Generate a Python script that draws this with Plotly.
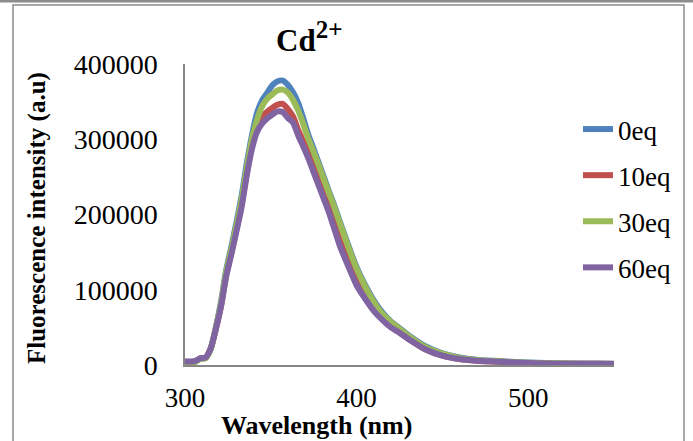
import plotly.graph_objects as go

# ---- data ----
wavelength = [300, 303, 306, 309, 312, 315, 318, 321, 324, 327, 330, 333, 336, 339, 342,
              345, 348, 351, 354, 357, 360, 363, 366, 369, 372, 375, 378, 381, 384, 387,
              390, 395, 400, 405, 410, 415, 420, 425, 430, 440, 450, 460, 470, 480, 490,
              500, 510, 520, 530, 540, 550]

eq0 = [3000, 3000, 4500, 8500, 9500, 22000, 50000, 84000, 126000, 157000, 190000, 225000, 268000, 305000, 335000,
       352000, 362000, 372000, 377000, 378000, 372000, 362000, 348000, 327000, 305000, 287000, 268000, 249000, 230000, 212000,
       192000, 160000, 130000, 106000, 86000, 70000, 58000, 49000, 40000, 25000, 15500, 10000, 7000, 5500, 4200,
       3200, 2500, 2000, 1800, 1700, 1600]

eq10 = [4000, 4000, 5000, 8500, 9500, 22000, 48000, 79000, 119000, 149000, 180000, 213000, 256000, 292000, 316000,
        330000, 337000, 342000, 346000, 347000, 340000, 330000, 312000, 297000, 281000, 263000, 245000, 226000, 208000, 188000,
        167000, 138000, 112000, 92000, 74000, 61000, 51000, 43000, 35000, 21000, 12500, 8000, 5800, 4600, 3500,
        2600, 2000, 1700, 1600, 1500, 1400]

eq30 = [3000, 2500, 4000, 8000, 9000, 21000, 50000, 82000, 124000, 154000, 186000, 220000, 262000, 300000, 326000,
        344000, 354000, 360000, 365000, 366000, 362000, 352000, 338000, 320000, 300000, 283000, 265000, 246000, 228000, 210000,
        190000, 158000, 128000, 104000, 84000, 68000, 57000, 48000, 39000, 24000, 15000, 9500, 6800, 5300, 4000,
        3000, 2400, 2000, 1800, 1700, 1600]

eq60 = [5000, 4500, 5500, 9000, 10000, 22000, 48000, 78000, 118000, 147000, 178000, 210000, 252000, 287000, 310000,
        321000, 328000, 333000, 337000, 336000, 328000, 322000, 305000, 290000, 274000, 256000, 238000, 220000, 202000, 181000,
        160000, 132000, 106000, 88000, 72000, 60000, 50000, 43000, 35000, 21000, 12500, 8000, 5800, 4700, 3600,
        2600, 2000, 1700, 1600, 1500, 1400]

series_names = ["0eq", "10eq", "30eq", "60eq"]
series_values = [eq0, eq10, eq30, eq60]
series_colors = ["#4F81BD", "#C0504D", "#9BBB59", "#8064A2"]

x_ticks = [300, 400, 500]
y_ticks = [0, 100000, 200000, 300000, 400000]

# ---- layout geometry (pixels) ----
W, H = 693, 441
L, R, T, B = 185, 614, 64, 365  # plot area edges


def px(xp):
    return (xp - L) / (R - L)


def py(yp):
    return (B - yp) / (B - T)


SERIF = "Liberation Serif, Times New Roman, serif"

fig = go.Figure()
for i, (name, vals, col) in enumerate(zip(series_names, series_values, series_colors)):
    fig.add_trace(go.Scatter(
        x=wavelength, y=vals, name=name, mode="lines",
        line=dict(color=col, width=6, shape="spline", smoothing=0.6),
        legendgroup=name,
    ))

fig.update_layout(
    width=W, height=H,
    margin=dict(l=L, r=W - R, t=T, b=H - B, pad=0),
    paper_bgcolor="white", plot_bgcolor="white",
    showlegend=True,
    legend=dict(
        x=px(578), xanchor="left", y=py(105), yanchor="top",
        font=dict(family=SERIF, size=27, color="black"),
        tracegroupgap=8, bgcolor="rgba(0,0,0,0)",
        itemwidth=30,
    ),
    xaxis=dict(
        range=[300, 550], tickvals=x_ticks, ticktext=[str(v) for v in x_ticks],
        showgrid=False, zeroline=False, showline=True, linecolor="#868686", linewidth=1.5,
        ticks="", tickfont=dict(family=SERIF, size=27, color="black"),
        ticklabelstandoff=8,
    ),
    yaxis=dict(
        range=[0, 400000], tickvals=y_ticks, ticktext=[str(v) for v in y_ticks],
        showgrid=False, zeroline=False, showline=True, linecolor="#868686", linewidth=1.5,
        ticks="", tickfont=dict(family=SERIF, size=28, color="black"),
        ticklabelstandoff=20,
    ),
)

# Title and axis titles as annotations
fig.add_annotation(
    x=px(309), y=py(37), xref="paper", yref="paper", showarrow=False,
    text="<b>Cd<sup><span style='font-size:25px'>2+</span></sup></b>",
    font=dict(family=SERIF, size=31, color="black"),
    xanchor="center", yanchor="middle",
)
fig.add_annotation(
    x=px(316), y=py(425), xref="paper", yref="paper", showarrow=False,
    text="<b>Wavelength (nm)</b>", font=dict(family=SERIF, size=26, color="black"),
    xanchor="center", yanchor="middle",
)
fig.add_annotation(
    x=px(37), y=py(218), xref="paper", yref="paper", showarrow=False,
    text="<b>Fluorescence intensity (a.u)</b>", font=dict(family=SERIF, size=25, color="black"),
    xanchor="center", yanchor="middle", textangle=-90,
)

# Chart-area frame
fig.add_shape(type="rect", xref="paper", yref="paper",
              x0=px(13), x1=px(684), y0=py(445), y1=py(5),
              line=dict(color="#8c8c8c", width=1.5), layer="below")
fig.add_shape(type="line", xref="paper", yref="paper",
              x0=px(0), x1=px(693), y0=py(1), y1=py(1),
              line=dict(color="#8c8c8c", width=3), layer="below")

fig.write_html("out.html")
